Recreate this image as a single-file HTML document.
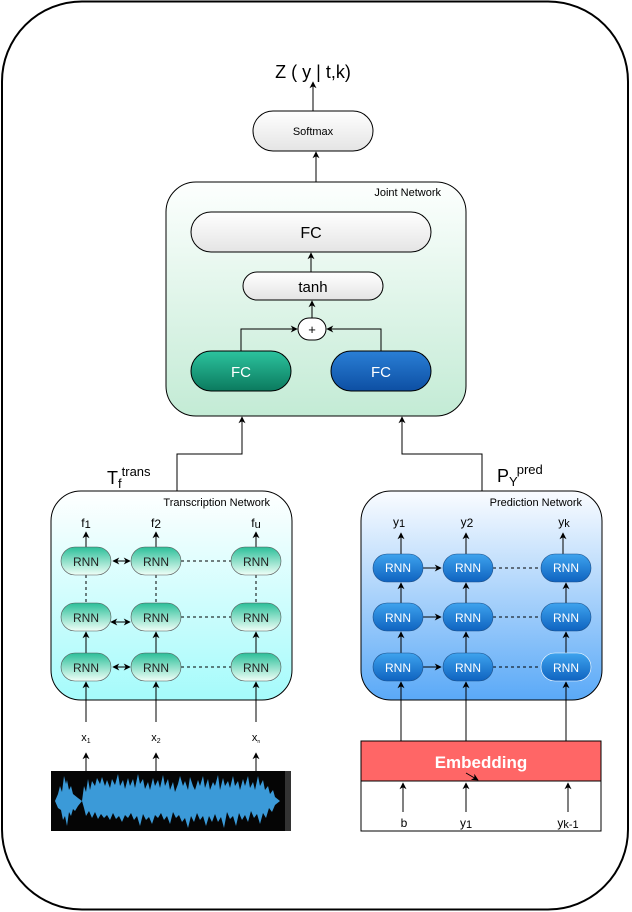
<!DOCTYPE html>
<html><head><meta charset="utf-8"><style>
html,body{margin:0;padding:0;background:#fff}
svg{display:block;font-family:"Liberation Sans",sans-serif}
</style></head><body>
<svg width="632" height="912" viewBox="0 0 632 912" xmlns="http://www.w3.org/2000/svg">
<defs>
<marker id="a" viewBox="0 0 10 10" refX="9" refY="5" markerWidth="7" markerHeight="7" orient="auto-start-reverse"><path d="M0,0 L10,5 L0,10 L3,5 z" fill="#000"/></marker>
<linearGradient id="gw" x1="0" y1="0" x2="0" y2="1"><stop offset="0" stop-color="#fff"/><stop offset="1" stop-color="#e4e4e4"/></linearGradient>
<linearGradient id="gj" x1="0" y1="0" x2="0" y2="1"><stop offset="0" stop-color="#fdfffe"/><stop offset="1" stop-color="#c3ebd5"/></linearGradient>
<linearGradient id="gt" x1="0" y1="0" x2="0" y2="1"><stop offset="0" stop-color="#fff"/><stop offset="1" stop-color="#a5fbfb"/></linearGradient>
<linearGradient id="gp" x1="0" y1="0" x2="0" y2="1"><stop offset="0" stop-color="#fafcff"/><stop offset="1" stop-color="#5aa9f7"/></linearGradient>
<linearGradient id="gfg" x1="0" y1="0" x2="0" y2="1"><stop offset="0" stop-color="#2cc39e"/><stop offset="1" stop-color="#0b7a5e"/></linearGradient>
<linearGradient id="gfb" x1="0" y1="0" x2="0" y2="1"><stop offset="0" stop-color="#2a7fd6"/><stop offset="1" stop-color="#0d4fa3"/></linearGradient>
<linearGradient id="grt" x1="0" y1="0" x2="0" y2="1"><stop offset="0" stop-color="#2bbf99"/><stop offset="1" stop-color="#f0fff8"/></linearGradient>
<linearGradient id="grp" x1="0" y1="0" x2="0" y2="1"><stop offset="0" stop-color="#3ea3ee"/><stop offset="1" stop-color="#0f63c0"/></linearGradient>
</defs>
<rect x="2" y="1.5" width="626" height="908" rx="80" fill="#fff" stroke="#000" stroke-width="2"/>

<text x="313" y="78" font-size="18" text-anchor="middle">Z ( y | t,k)</text>
<line x1="313" y1="111" x2="313" y2="82" stroke="#000" marker-end="url(#a)"/>
<rect x="253" y="111" width="120" height="40" rx="20" fill="url(#gw)" stroke="#000"/>
<text x="313" y="135" font-size="11" text-anchor="middle">Softmax</text>
<line x1="316" y1="182" x2="316" y2="152" stroke="#000" marker-end="url(#a)"/>

<rect x="166" y="182" width="300" height="234" rx="30" fill="url(#gj)" stroke="#000"/>
<text x="441" y="196" font-size="11" text-anchor="end">Joint Network</text>
<rect x="191" y="212" width="240" height="40" rx="20" fill="url(#gw)" stroke="#000"/>
<text x="311" y="238" font-size="16" text-anchor="middle">FC</text>
<line x1="311" y1="272" x2="311" y2="253" stroke="#000" marker-end="url(#a)"/>
<rect x="243" y="272" width="140" height="28" rx="14" fill="url(#gw)" stroke="#000"/>
<text x="313" y="292" font-size="15" text-anchor="middle">tanh</text>
<line x1="312" y1="318" x2="312" y2="301" stroke="#000" marker-end="url(#a)"/>
<rect x="298" y="318" width="28" height="22" rx="11" fill="#fff" stroke="#000"/>
<text x="312" y="334" font-size="13" text-anchor="middle">+</text>
<polyline points="241,351 241,329 297,329" fill="none" stroke="#000" marker-end="url(#a)"/>
<polyline points="381,351 381,329 327,329" fill="none" stroke="#000" marker-end="url(#a)"/>
<rect x="191" y="351" width="100" height="40" rx="20" fill="url(#gfg)" stroke="#000"/>
<text x="241" y="377" font-size="15" fill="#fff" text-anchor="middle">FC</text>
<rect x="331" y="351" width="100" height="40" rx="20" fill="url(#gfb)" stroke="#000"/>
<text x="381" y="377" font-size="15" fill="#fff" text-anchor="middle">FC</text>

<polyline points="177,491 177,454 242,454 242,417" fill="none" stroke="#000" marker-end="url(#a)"/>
<polyline points="482,491 482,454 402,454 402,417" fill="none" stroke="#000" marker-end="url(#a)"/>
<text x="107" y="484" font-size="18">T<tspan font-size="13" dy="4">f</tspan><tspan font-size="13" dy="-12">trans</tspan></text>
<text x="497" y="482" font-size="18">P<tspan font-size="13" dy="4">Y</tspan><tspan font-size="13" dy="-12">pred</tspan></text>

<!-- Transcription -->
<rect x="51" y="491" width="241" height="209" rx="30" fill="url(#gt)" stroke="#000"/>
<text x="270" y="506" font-size="11" text-anchor="end">Transcription Network</text>
<g font-size="12" text-anchor="middle">
<text x="86" y="527">f<tspan font-size="11" dy="1">1</tspan></text>
<text x="156" y="527">f<tspan dy="1">2</tspan></text>
<text x="256" y="527">f<tspan font-size="11" dy="1">u</tspan></text>
</g>
<g stroke="#000">
<line x1="86" y1="547" x2="86" y2="532" marker-end="url(#a)"/>
<line x1="156" y1="547" x2="156" y2="532" marker-end="url(#a)"/>
<line x1="256" y1="547" x2="256" y2="532" marker-end="url(#a)"/>
<g stroke-dasharray="3,3">
<line x1="86" y1="575" x2="86" y2="603"/><line x1="156" y1="575" x2="156" y2="603"/><line x1="256" y1="575" x2="256" y2="603"/>
<line x1="181" y1="561" x2="231" y2="561"/><line x1="181" y1="617" x2="231" y2="617"/><line x1="181" y1="667" x2="231" y2="667"/>
</g>
<line x1="86" y1="653" x2="86" y2="632" marker-end="url(#a)"/>
<line x1="156" y1="653" x2="156" y2="632" marker-end="url(#a)"/>
<line x1="256" y1="653" x2="256" y2="632" marker-end="url(#a)"/>
<line x1="113" y1="561" x2="130" y2="561" marker-start="url(#a)" marker-end="url(#a)"/>
<line x1="111" y1="622" x2="130" y2="622" marker-start="url(#a)" marker-end="url(#a)"/>
<line x1="113" y1="667" x2="130" y2="667" marker-start="url(#a)" marker-end="url(#a)"/>
<line x1="86" y1="722" x2="86" y2="682" marker-end="url(#a)"/>
<line x1="156" y1="722" x2="156" y2="682" marker-end="url(#a)"/>
<line x1="256" y1="722" x2="256" y2="682" marker-end="url(#a)"/>
<line x1="86" y1="771" x2="86" y2="753" marker-end="url(#a)"/>
<line x1="156" y1="771" x2="156" y2="753" marker-end="url(#a)"/>
<line x1="256" y1="771" x2="256" y2="753" marker-end="url(#a)"/>
</g>
<g fill="url(#grt)" stroke="#555" stroke-width="0.6">
<rect x="61" y="547" width="50" height="28" rx="14"/><rect x="131" y="547" width="50" height="28" rx="14"/><rect x="231" y="547" width="50" height="28" rx="14"/>
<rect x="61" y="603" width="50" height="28" rx="14"/><rect x="131" y="603" width="50" height="28" rx="14"/><rect x="231" y="603" width="50" height="28" rx="14"/>
<rect x="61" y="653" width="50" height="28" rx="14"/><rect x="131" y="653" width="50" height="28" rx="14"/><rect x="231" y="653" width="50" height="28" rx="14"/>
</g>
<g font-size="12" text-anchor="middle" fill="#222">
<text x="86" y="566">RNN</text><text x="156" y="566">RNN</text><text x="256" y="566">RNN</text>
<text x="86" y="622">RNN</text><text x="156" y="622">RNN</text><text x="256" y="622">RNN</text>
<text x="86" y="672">RNN</text><text x="156" y="672">RNN</text><text x="256" y="672">RNN</text>
</g>
<g font-size="11" text-anchor="middle">
<text x="86" y="741">x<tspan font-size="7" dy="2">1</tspan></text>
<text x="156" y="741">x<tspan font-size="7" dy="2">2</tspan></text>
<text x="256" y="741">x<tspan font-size="5" dy="2">n</tspan></text>
</g>
<rect x="51" y="771" width="240" height="60" fill="#050505"/>
<rect x="285" y="771" width="6" height="60" fill="#333"/>
<polygon fill="#3b9ad8" points="55,801 58,794 60,786 62,792 64,776 66,784 67,780 69,790 71,786 73,794 78,798 82,801 84,786 86,792 88,779 90,790 92,781 95,786 97,778 100,784 102,777 105,786 107,780 110,788 112,779 115,785 118,774 120,786 123,780 125,789 128,778 130,786 133,779 135,788 138,774 140,784 143,779 145,789 148,782 150,790 153,778 155,786 158,780 160,788 163,775 165,786 168,779 170,790 173,782 175,792 178,784 180,776 183,786 185,781 188,790 190,777 193,786 195,790 198,780 200,786 203,776 205,788 208,779 210,790 213,782 215,786 218,775 220,790 223,778 225,786 228,781 230,788 233,776 235,786 238,781 240,790 243,779 245,786 248,776 250,788 253,782 255,790 258,776 260,786 263,780 265,790 268,786 270,794 273,790 275,797 280,801 275,805 272,812 269,808 266,818 263,813 260,824 257,814 254,818 251,811 248,822 245,815 242,820 239,813 236,826 233,816 230,819 227,812 224,828 221,817 218,822 215,814 212,822 209,816 206,826 203,816 200,820 197,813 194,822 191,816 188,828 185,818 182,822 179,815 176,818 173,812 170,824 167,816 164,820 161,813 158,818 155,815 152,824 149,817 146,820 143,814 140,826 137,816 134,820 131,813 128,818 125,815 122,822 119,816 116,819 113,813 110,820 107,815 104,818 101,814 98,819 95,812 92,818 89,811 86,816 84,808 82,801 78,806 75,811 73,809 71,816 69,812 67,826 65,816 63,820 61,810 58,808"/>

<!-- Prediction -->
<rect x="361" y="491" width="241" height="209" rx="30" fill="url(#gp)" stroke="#000"/>
<text x="582" y="506" font-size="11" text-anchor="end">Prediction Network</text>
<g font-size="12" text-anchor="middle">
<text x="399" y="526">y<tspan font-size="11" dy="1">1</tspan></text>
<text x="467" y="526">y<tspan dy="1">2</tspan></text>
<text x="564" y="526">y<tspan font-size="11" dy="1">k</tspan></text>
</g>
<g stroke="#000">
<line x1="401" y1="554" x2="401" y2="533" marker-end="url(#a)"/>
<line x1="466" y1="554" x2="466" y2="533" marker-end="url(#a)"/>
<line x1="563" y1="554" x2="563" y2="533" marker-end="url(#a)"/>
<line x1="401" y1="603" x2="401" y2="583" marker-end="url(#a)"/>
<line x1="466" y1="603" x2="466" y2="583" marker-end="url(#a)"/>
<line x1="566" y1="603" x2="566" y2="583" marker-end="url(#a)"/>
<line x1="401" y1="653" x2="401" y2="632" marker-end="url(#a)"/>
<line x1="466" y1="653" x2="466" y2="632" marker-end="url(#a)"/>
<line x1="566" y1="653" x2="566" y2="632" marker-end="url(#a)"/>
<line x1="423" y1="568" x2="441" y2="568" marker-end="url(#a)"/>
<line x1="423" y1="617" x2="441" y2="617" marker-end="url(#a)"/>
<line x1="423" y1="667" x2="441" y2="667" marker-end="url(#a)"/>
<g stroke-dasharray="3,3">
<line x1="493" y1="568" x2="541" y2="568"/><line x1="493" y1="617" x2="541" y2="617"/><line x1="493" y1="667" x2="541" y2="667"/>
</g>
<line x1="401" y1="741" x2="401" y2="682" marker-end="url(#a)"/>
<line x1="466" y1="741" x2="466" y2="682" marker-end="url(#a)"/>
<line x1="566" y1="741" x2="566" y2="682" marker-end="url(#a)"/>
</g>
<g fill="url(#grp)" stroke="#1a4f8a" stroke-width="0.6">
<rect x="373" y="554" width="50" height="28" rx="14"/><rect x="443" y="554" width="50" height="28" rx="14"/><rect x="541" y="554" width="50" height="28" rx="14"/>
<rect x="373" y="603" width="50" height="28" rx="14"/><rect x="443" y="603" width="50" height="28" rx="14"/><rect x="541" y="603" width="50" height="28" rx="14"/>
<rect x="373" y="653" width="50" height="28" rx="14"/><rect x="443" y="653" width="50" height="28" rx="14"/><rect x="541" y="653" width="50" height="28" rx="14" stroke="#fff"/>
</g>
<g font-size="12" text-anchor="middle" fill="#fff">
<text x="398" y="572">RNN</text><text x="468" y="572">RNN</text><text x="566" y="572">RNN</text>
<text x="398" y="622">RNN</text><text x="468" y="622">RNN</text><text x="566" y="622">RNN</text>
<text x="398" y="672">RNN</text><text x="468" y="672">RNN</text><text x="566" y="672">RNN</text>
</g>
<rect x="361" y="741" width="240" height="90" fill="#fff" stroke="#000"/>
<rect x="361" y="741" width="240" height="40" fill="#ff6666" stroke="#000"/>
<text x="481" y="768" font-size="17" font-weight="bold" fill="#fff" text-anchor="middle">Embedding</text>
<line x1="466" y1="773" x2="478" y2="780" stroke="#000" marker-end="url(#a)"/>
<g stroke="#000">
<line x1="403" y1="812" x2="403" y2="783" marker-end="url(#a)"/>
<line x1="466" y1="812" x2="466" y2="783" marker-end="url(#a)"/>
<line x1="568" y1="812" x2="568" y2="783" marker-end="url(#a)"/>
</g>
<g font-size="12" text-anchor="middle">
<text x="404" y="827">b</text>
<text x="466" y="827">y<tspan font-size="11" dy="1">1</tspan></text>
<text x="568" y="827">y<tspan font-size="11" dy="1">k-1</tspan></text>
</g>
</svg>
</body></html>
